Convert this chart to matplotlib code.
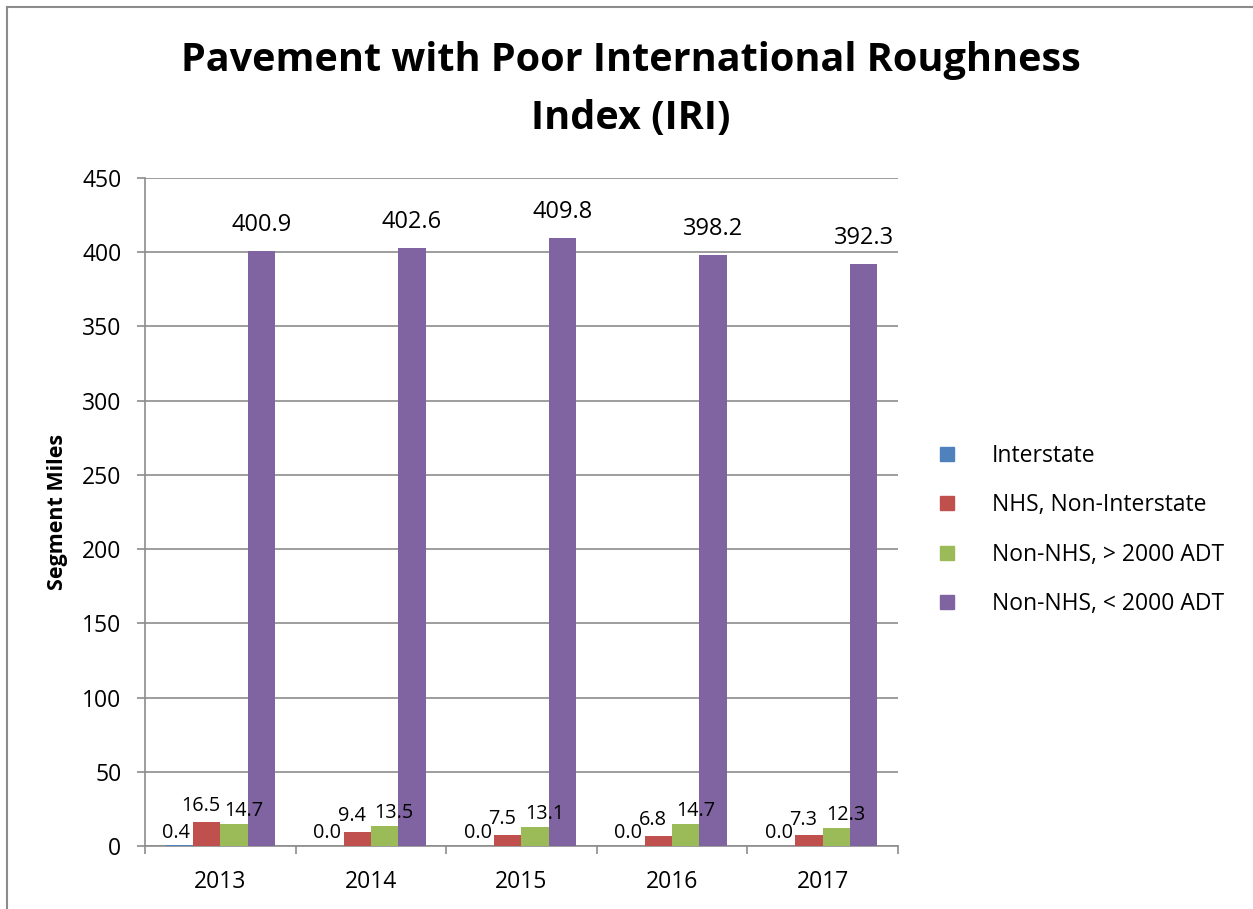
import matplotlib
matplotlib.use("Agg")
import matplotlib.pyplot as plt
import numpy as np
from matplotlib.lines import Line2D

plt.rcParams['font.family'] = ['Open Sans', 'DejaVu Sans']

years = ['2013', '2014', '2015', '2016', '2017']
interstate = [0.4, 0.0, 0.0, 0.0, 0.0]
nhs_non_interstate = [16.5, 9.4, 7.5, 6.8, 7.3]
non_nhs_high = [14.7, 13.5, 13.1, 14.7, 12.3]
non_nhs_low = [400.9, 402.6, 409.8, 398.2, 392.3]

series_names = ['Interstate', 'NHS, Non-Interstate',
                'Non-NHS, > 2000 ADT', 'Non-NHS, < 2000 ADT']
series_vals = [interstate, nhs_non_interstate, non_nhs_high, non_nhs_low]
colors = ['#4F81BD', '#C0504D', '#9BBB59', '#8064A2']
# label nudges (points) so the small labels don't collide
label_dx = [-2, -4, 7, 0]
label_dy = [2, 4, 2, 10]

grey = '#8c8c8c'

fig = plt.figure(figsize=(12.53, 9.09), dpi=100)
ax = fig.add_axes([0.1157, 0.0693, 0.601, 0.7349])

x = np.arange(len(years))
w = 1 / 5.5
for i, (name, vals, c) in enumerate(zip(series_names, series_vals, colors)):
    pos = x + (i - 1.5) * w
    bars = ax.bar(pos, vals, w, color=c, label=name, zorder=3)
    big = i == 3
    for b, v in zip(bars, vals):
        ax.annotate(f'{v:.1f}', (b.get_x() + b.get_width() / 2, v),
                    xytext=(label_dx[i], label_dy[i]), textcoords='offset points',
                    ha='center', va='bottom',
                    fontsize=17 if big else 14.3, zorder=4)

ax.set_xlim(-0.5, len(years) - 0.5)
ax.set_ylim(0, 450)
ax.set_yticks(np.arange(0, 451, 50))
ax.yaxis.grid(True, color=grey, linewidth=1.2, zorder=0)
ax.set_xticks(x)
ax.set_xticklabels(years)
ax.set_xticks(np.arange(-0.5, len(years)), minor=True)
ax.tick_params(axis='x', which='major', length=0, pad=17, labelsize=16.5)
ax.tick_params(axis='x', which='minor', length=6, width=1.2, color=grey)
ax.tick_params(axis='y', length=6, width=1.2, color=grey, pad=11, labelsize=16.5)
for s in ['top', 'right']:
    ax.spines[s].set_visible(False)
for s in ['left', 'bottom']:
    ax.spines[s].set_color(grey)
    ax.spines[s].set_linewidth(1.2)

ax.set_ylabel('Segment Miles', fontsize=15.5, fontweight='bold', labelpad=10)

fig.text(0.5035, 0.9015, 'Pavement with Poor International Roughness\nIndex (IRI)',
         ha='center', va='center', fontsize=28.5, fontweight='bold', linespacing=1.62)

handles = [Line2D([], [], marker='s', linestyle='none', markersize=10.5,
                  markerfacecolor=c, markeredgecolor=c) for c in colors]
fig.legend(handles, series_names, loc='center left',
           bbox_to_anchor=(0.7446, 0.4169), frameon=False, fontsize=16.5,
           handletextpad=1.365, labelspacing=1.1, handlelength=1.2,
           borderaxespad=0, borderpad=0)

# chart frame (top and left edges)
fig.add_artist(Line2D([7 / 1253, 1], [1 - 6.5 / 909, 1 - 6.5 / 909],
                      color=grey, linewidth=1.5, transform=fig.transFigure))
fig.add_artist(Line2D([7 / 1253, 7 / 1253], [0, 1 - 6.5 / 909],
                      color=grey, linewidth=1.5, transform=fig.transFigure))

fig.savefig('out.png', dpi=100)
